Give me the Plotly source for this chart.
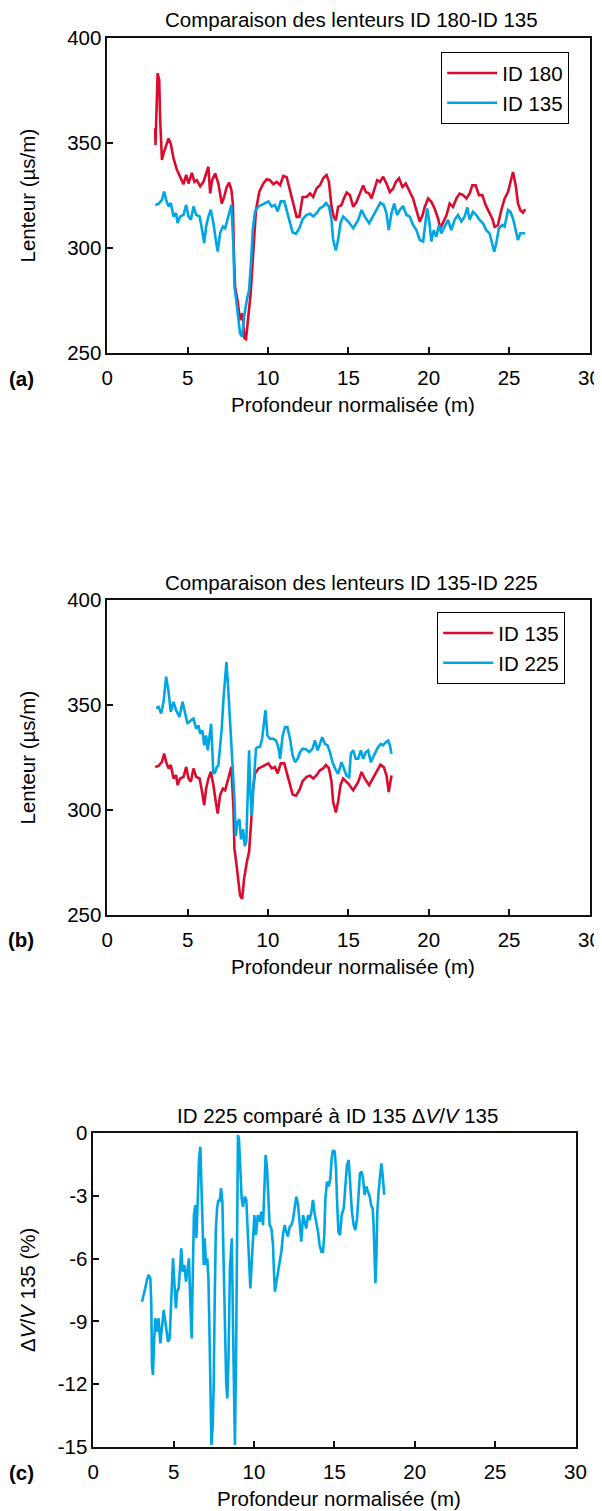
import plotly.graph_objects as go

# ---------------- data ----------------
x_ticks = [0, 5, 10, 15, 20, 25, 30]
lenteur_ticks = [250, 300, 350, 400]
dvv_ticks = [-15, -12, -9, -6, -3, 0]
dvv_ticktext = ["-15", "-12", "-9", "-6", "-3", "0"]

depth_180 = [2.98, 3.0, 3.13, 3.23, 3.29, 3.4, 3.5, 3.6, 3.81, 3.95, 4.12, 4.33, 4.53, 4.74, 4.91,
             5.05, 5.26, 5.42, 5.57, 5.78, 5.98, 6.15, 6.29, 6.4, 6.52, 6.71, 6.91, 7.12, 7.27, 7.43,
             7.58, 7.72, 7.81, 7.89, 7.95, 8.1, 8.26, 8.41, 8.53, 8.63, 8.78, 8.92, 9.09, 9.25, 9.46,
             9.71, 9.92, 10.12, 10.33, 10.54, 10.75, 10.95, 11.16, 11.37, 11.57, 11.78, 11.95, 12.15,
             12.4, 12.61, 12.81, 13.02, 13.23, 13.43, 13.64, 13.79, 13.95, 14.09, 14.22, 14.36, 14.57,
             14.68, 14.89, 15.09, 15.3, 15.51, 15.71, 15.92, 16.09, 16.29, 16.44, 16.65, 16.79, 16.96,
             17.16, 17.37, 17.58, 17.79, 17.95, 18.15, 18.36, 18.57, 18.82, 19.02, 19.23, 19.44, 19.61,
             19.75, 19.96, 20.16, 20.37, 20.58, 20.72, 20.89, 21.1, 21.3, 21.51, 21.72, 21.92, 22.13,
             22.34, 22.54, 22.71, 22.92, 23.12, 23.33, 23.54, 23.74, 23.95, 24.1, 24.3, 24.51, 24.72,
             24.93, 25.07, 25.24, 25.41, 25.55, 25.7, 25.86, 26.0]
lenteur_180 = [357.0, 349.1, 383.2, 380.0, 360.9, 341.9, 345.1, 347.6, 352.2, 349.6, 342.7, 337.2, 334.0,
               330.4, 334.8, 330.7, 335.8, 331.5, 332.3, 329.4, 331.5, 335.5, 338.7, 326.0, 332.3, 335.5,
               330.7, 321.2, 324.3, 329.1, 331.1, 327.6, 321.2, 294.2, 281.6, 275.2, 265.7, 268.9, 257.0,
               256.6, 268.9, 278.4, 299.0, 318.1, 326.8, 330.7, 332.7, 332.3, 330.4, 331.5, 329.9, 334.3,
               333.7, 326.8, 321.2, 314.8, 314.8, 324.3, 324.3, 326.0, 324.3, 328.4, 329.9, 333.2, 334.7,
               331.5, 319.6, 314.8, 313.2, 319.6, 320.4, 322.9, 326.4, 325.2, 319.6, 322.0, 325.9, 329.8,
               326.6, 325.9, 323.6, 329.1, 332.3, 331.5, 333.9, 330.7, 326.6, 328.4, 331.5, 333.2, 329.1,
               330.7, 326.6, 323.6, 318.0, 312.5, 315.6, 319.6, 323.6, 322.0, 318.7, 314.0, 309.3, 312.5,
               315.6, 321.2, 319.6, 323.6, 325.9, 325.2, 323.6, 325.9, 329.8, 329.8, 325.2, 325.2, 320.4,
               317.3, 314.0, 310.1, 310.9, 318.0, 323.6, 326.6, 331.5, 336.2, 329.8, 321.2, 318.0, 316.8,
               318.5]

depth_135 = [2.98, 3.19, 3.4, 3.54, 3.66, 3.81, 3.95, 4.12, 4.28, 4.37, 4.53, 4.74, 4.91, 5.05, 5.2,
             5.36, 5.53, 5.74, 5.88, 6.03, 6.15, 6.29, 6.44, 6.6, 6.75, 6.87, 7.02, 7.19, 7.33, 7.47,
             7.6, 7.72, 7.85, 7.91, 8.02, 8.14, 8.26, 8.39, 8.51, 8.68, 8.82, 8.95, 9.05, 9.19, 9.4,
             9.61, 9.81, 10.02, 10.23, 10.43, 10.6, 10.79, 11.01, 11.2, 11.37, 11.53, 11.74, 11.95,
             12.15, 12.4, 12.61, 12.81, 13.02, 13.23, 13.43, 13.6, 13.79, 13.95, 14.05, 14.22, 14.36,
             14.51, 14.67, 14.88, 14.99, 15.3, 15.61, 15.82, 16.02, 16.29, 16.54, 16.79, 16.99, 17.2,
             17.37, 17.51, 17.68, 17.85, 18.03, 18.2, 18.4, 18.61, 18.82, 19.02, 19.23, 19.44, 19.65,
             19.77, 19.9, 20.02, 20.16, 20.31, 20.47, 20.64, 20.78, 20.99, 21.2, 21.4, 21.61, 21.82,
             22.03, 22.23, 22.4, 22.54, 22.75, 22.96, 23.16, 23.37, 23.58, 23.78, 23.95, 24.07, 24.2,
             24.36, 24.57, 24.72, 24.93, 25.07, 25.24, 25.41, 25.55, 25.7, 25.86, 26.0]
lenteur_135 = [320.5, 321.0, 322.9, 326.9, 322.9, 319.8, 321.4, 315.0, 316.6, 311.9, 315.0, 315.8, 320.5,
               315.0, 313.4, 319.8, 315.8, 315.0, 309.4, 302.3, 310.2, 315.0, 318.2, 311.9, 303.9, 298.3,
               307.1, 310.2, 309.4, 313.4, 317.4, 320.5, 300.6, 281.6, 275.2, 265.7, 259.3, 257.7, 267.2,
               275.2, 280.0, 294.2, 308.6, 317.4, 319.8, 320.5, 321.4, 322.2, 319.8, 320.5, 317.4, 322.2,
               322.2, 316.6, 311.9, 307.4, 306.8, 309.4, 313.7, 315.8, 316.3, 315.0, 316.6, 318.9, 319.8,
               321.4, 319.8, 313.4, 303.9, 298.8, 303.9, 311.9, 315.0, 313.4, 312.6, 309.4, 313.4, 318.1,
               314.9, 311.8, 315.7, 318.8, 321.6, 320.4, 316.5, 308.5, 316.5, 321.2, 315.7, 318.1, 320.0,
               315.7, 314.9, 311.0, 308.5, 303.8, 303.1, 311.8, 318.8, 313.4, 303.1, 308.5, 305.4, 311.0,
               307.0, 310.2, 313.4, 308.5, 313.4, 315.7, 312.6, 314.9, 319.3, 313.4, 317.3, 315.7, 313.4,
               311.8, 308.5, 307.0, 302.3, 298.3, 302.3, 309.4, 311.0, 310.2, 318.1, 317.3, 314.1, 308.5,
               303.8, 307.0, 307.0, 307.0]

depth_225 = [3.04, 3.19, 3.35, 3.5, 3.66, 3.81, 3.95, 4.12, 4.28, 4.49, 4.68, 4.84, 4.99, 5.2, 5.36,
             5.53, 5.67, 5.78, 5.92, 6.03, 6.15, 6.25, 6.36, 6.46, 6.54, 6.6, 6.71, 6.81, 6.91, 7.02,
             7.12, 7.23, 7.33, 7.41, 7.51, 7.6, 7.7, 7.81, 7.91, 7.99, 8.1, 8.22, 8.32, 8.45, 8.55,
             8.65, 8.74, 8.82, 8.9, 8.99, 9.07, 9.15, 9.25, 9.36, 9.5, 9.63, 9.73, 9.84, 9.96, 10.12,
             10.33, 10.5, 10.64, 10.75, 10.91, 11.06, 11.2, 11.37, 11.53, 11.68, 11.84, 11.99, 12.15,
             12.36, 12.57, 12.77, 12.92, 13.08, 13.23, 13.37, 13.54, 13.7, 13.85, 14.01, 14.18, 14.36,
             14.57, 14.74, 14.88, 15.05, 15.15, 15.3, 15.46, 15.61, 15.77, 15.92, 16.09, 16.23, 16.4,
             16.54, 16.71, 16.85, 17.02, 17.16, 17.33, 17.47, 17.58, 17.68]
lenteur_225 = [348.6, 349.1, 345.9, 351.5, 363.5, 356.3, 346.7, 351.5, 347.5, 344.3, 351.5, 345.9, 341.1,
               342.7, 343.5, 338.7, 340.3, 336.3, 337.9, 330.8, 335.5, 328.4, 333.9, 341.1, 327.6, 317.2,
               318.0, 320.4, 321.2, 329.2, 338.7, 353.1, 364.3, 370.4, 359.5, 346.7, 335.5, 321.2, 305.2,
               287.6, 294.0, 295.6, 286.0, 290.8, 282.8, 285.2, 308.4, 328.4, 308.4, 297.2, 308.4, 319.6,
               329.2, 330.0, 330.0, 333.9, 341.9, 347.5, 335.5, 333.9, 333.9, 333.1, 330.0, 324.4, 335.5,
               339.5, 339.5, 333.9, 325.9, 322.8, 324.4, 327.6, 329.2, 328.9, 327.6, 329.2, 333.1, 328.4,
               331.5, 334.7, 331.5, 330.8, 327.6, 322.8, 319.6, 317.2, 322.8, 319.6, 316.4, 315.6, 326.8,
               328.4, 324.4, 324.4, 328.4, 324.4, 327.6, 328.4, 322.8, 325.2, 327.6, 330.0, 331.5, 330.8,
               332.3, 333.1, 330.8, 326.8]

depth_dvv = [3.03, 3.13, 3.23, 3.34, 3.44, 3.55, 3.61, 3.65, 3.71, 3.79, 3.86, 3.96, 4.06, 4.17, 4.27,
             4.38, 4.48, 4.58, 4.65, 4.75, 4.84, 4.92, 4.96, 5.04, 5.14, 5.21, 5.31, 5.41, 5.47, 5.56,
             5.66, 5.77, 5.87, 5.95, 6.04, 6.12, 6.2, 6.26, 6.35, 6.41, 6.49, 6.58, 6.66, 6.72, 6.78,
             6.87, 6.93, 7.01, 7.09, 7.16, 7.22, 7.28, 7.35, 7.43, 7.49, 7.55, 7.62, 7.7, 7.78, 7.86,
             7.95, 8.03, 8.11, 8.19, 8.27, 8.34, 8.41, 8.5, 8.56, 8.62, 8.69, 8.75, 8.81, 8.88, 8.94,
             9.0, 9.06, 9.15, 9.23, 9.31, 9.42, 9.52, 9.6, 9.69, 9.77, 9.87, 9.93, 10.02, 10.12, 10.23,
             10.35, 10.45, 10.56, 10.64, 10.72, 10.81, 10.89, 10.97, 11.08, 11.18, 11.24, 11.3, 11.43,
             11.57, 11.7, 11.8, 11.9, 12.01, 12.11, 12.22, 12.32, 12.42, 12.53, 12.63, 12.74, 12.84,
             12.94, 13.05, 13.15, 13.25, 13.36, 13.46, 13.57, 13.67, 13.77, 13.88, 13.98, 14.08, 14.19,
             14.29, 14.37, 14.44, 14.54, 14.65, 14.75, 14.83, 14.91, 15.02, 15.1, 15.16, 15.25, 15.35,
             15.45, 15.58, 15.68, 15.78, 15.89, 15.99, 16.09, 16.2, 16.3, 16.41, 16.51, 16.59, 16.7,
             16.78, 16.88, 16.99, 17.09, 17.2, 17.28, 17.38, 17.44, 17.5, 17.55, 17.61, 17.67, 17.75,
             17.86, 17.92, 18.0, 18.1]
dvv = [-8.06, -7.66, -7.42, -7.02, -6.78, -6.94, -8.22, -11.08, -11.56, -9.81, -8.85, -9.49, -8.85,
       -10.05, -9.17, -8.46, -9.01, -9.49, -9.97, -9.81, -8.38, -6.94, -5.99, -7.1, -8.38, -7.58, -7.42,
       -6.3, -5.51, -6.62, -6.3, -7.1, -6.46, -5.99, -8.22, -9.81, -6.3, -3.92, -3.44, -5.03, -3.44,
       -1.21, -0.66, -2.01, -4.4, -6.3, -5.03, -6.3, -5.99, -6.94, -9.17, -12.04, -14.9, -13.95, -12.04,
       -8.22, -4.71, -3.6, -3.2, -3.28, -2.64, -3.28, -6.3, -9.81, -12.04, -12.68, -10.77, -6.46, -5.35,
       -5.03, -9.17, -13.47, -14.9, -10.77, -4.4, -0.1, -0.26, -1.53, -3.12, -3.52, -3.04, -3.2, -4.4,
       -5.99, -7.42, -5.99, -4.88, -3.92, -4.88, -3.92, -4.24, -3.76, -4.4, -2.8, -1.05, -1.69, -3.28,
       -4.4, -4.56, -5.35, -6.62, -7.58, -6.94, -6.3, -5.67, -4.88, -4.4, -4.72, -4.95, -4.48, -4.4,
       -4.16, -3.44, -3.04, -3.44, -4.24, -5.19, -3.92, -4.24, -4.56, -3.92, -4.16, -3.76, -3.2, -3.84,
       -4.24, -4.72, -5.35, -5.67, -5.67, -4.88, -3.12, -2.32, -2.56, -2.16, -1.21, -0.82, -0.89, -1.69,
       -3.12, -4.72, -4.88, -3.92, -3.6, -2.48, -1.53, -1.29, -2.8, -3.76, -4.4, -4.64, -4.08, -3.12,
       -1.93, -1.85, -2.16, -2.96, -2.56, -2.8, -3.04, -3.44, -3.6, -4.4, -6.46, -7.18, -5.99, -3.76,
       -2.8, -2.0, -1.45, -2.0, -2.96]

# panel (b) shows ID 135 over the ID 225 depth span only
b_limit = 17.7
depth_135b = [d for d in depth_135 if d <= b_limit]
lenteur_135b = [v for d, v in zip(depth_135, lenteur_135) if d <= b_limit]

# ---------------- styling ----------------
RED = "#dc0a2d"
BLUE = "#00a6e4"
FONT = "Liberation Sans, Arial, Helvetica, sans-serif"
FS = 20.5
OFF = 8  # page body margin of the html page
W, H = 602 - OFF, 1511 - OFF  # figure fits the window exactly, no scrollbars


def py(p):
    return 1 - (p - OFF) / H


def px(p):
    return (p - OFF) / W


fig = go.Figure()
fig.add_trace(go.Scatter(x=depth_180, y=lenteur_180, mode="lines", name="ID 180",
                         line=dict(color=RED, width=2.6), xaxis="x", yaxis="y",
                         legend="legend"))
fig.add_trace(go.Scatter(x=depth_135, y=lenteur_135, mode="lines", name="ID 135",
                         line=dict(color=BLUE, width=2.6), xaxis="x", yaxis="y",
                         legend="legend"))
fig.add_trace(go.Scatter(x=depth_135b, y=lenteur_135b, mode="lines", name="ID 135",
                         line=dict(color=RED, width=2.6), xaxis="x2", yaxis="y2",
                         legend="legend2"))
fig.add_trace(go.Scatter(x=depth_225, y=lenteur_225, mode="lines", name="ID 225",
                         line=dict(color=BLUE, width=2.6), xaxis="x2", yaxis="y2",
                         legend="legend2"))
fig.add_trace(go.Scatter(x=depth_dvv, y=dvv, mode="lines", name="dV/V",
                         line=dict(color=BLUE, width=2.6), xaxis="x3", yaxis="y3",
                         showlegend=False))

# panel geometry in page pixels: (left, right, top, bottom)
panels = {
    "a": (107.3, 589.5, 38.0, 353.0),
    "b": (107.3, 589.5, 600.0, 915.0),
    "c": (93.3, 575.5, 1133.0, 1447.0),
}

axis_common = dict(showline=True, linecolor="#111111", linewidth=1.5, mirror=True,
                   ticks="inside", ticklen=6, tickwidth=1.5, tickcolor="#111111",
                   showgrid=False, zeroline=False, automargin=False,
                   tickfont=dict(family=FONT, size=FS, color="black"))

layout = dict(width=W, height=H, autosize=False,
              margin=dict(l=0, r=0, t=0, b=0, pad=0, autoexpand=False),
              plot_bgcolor="white", paper_bgcolor="white",
              font=dict(family=FONT, size=FS, color="black"))

for i, key in enumerate(["a", "b", "c"]):
    l, r, t, b = panels[key]
    sx = "" if i == 0 else str(i + 1)
    xa = dict(axis_common, domain=[px(l), px(r)], range=[0, 30], tickvals=x_ticks,
              anchor="y" + sx, ticklabelstandoff=6)
    if key == "c":
        ya = dict(axis_common, domain=[py(b), py(t)], range=[-15, 0], tickvals=dvv_ticks,
                  ticktext=dvv_ticktext, anchor="x" + sx)
    else:
        ya = dict(axis_common, domain=[py(b), py(t)], range=[250, 400],
                  tickvals=lenteur_ticks, anchor="x" + sx)
    layout["xaxis" + sx] = xa
    layout["yaxis" + sx] = ya

legend_common = dict(xanchor="left", yanchor="top", bordercolor="black", borderwidth=1.2,
                     bgcolor="white", itemwidth=50,
                     font=dict(family=FONT, size=FS, color="black"))
layout["legend"] = dict(legend_common, x=px(441), y=py(52))
layout["legend2"] = dict(legend_common, x=px(437), y=py(612))

titles = {
    "a": "Comparaison des lenteurs ID 180-ID 135",
    "b": "Comparaison des lenteurs ID 135-ID 225",
    "c": "ID 225 comparé à ID 135 Δ<i>V</i>/<i>V</i> 135",
}
ytitles = {
    "a": "Lenteur (µs/m)",
    "b": "Lenteur (µs/m)",
    "c": "Δ<i>V</i>/<i>V</i> 135 (%)",
}
annotations = []
for key in ["a", "b", "c"]:
    l, r, t, b = panels[key]
    cx = (l + r) / 2
    annotations.append(dict(text=titles[key], x=px(cx + 3), y=py(t - 18), xref="paper",
                            yref="paper", xanchor="center", yanchor="middle",
                            showarrow=False, font=dict(family=FONT, size=FS)))
    annotations.append(dict(text="Profondeur normalisée (m)", x=px(cx + 5), y=py(b + 51),
                            xref="paper", yref="paper", xanchor="center", yanchor="middle",
                            showarrow=False, font=dict(family=FONT, size=FS)))
    annotations.append(dict(text=ytitles[key], x=px(27), y=py((t + b) / 2), xref="paper",
                            yref="paper", xanchor="center", yanchor="middle", textangle=-90,
                            showarrow=False, font=dict(family=FONT, size=FS)))
    annotations.append(dict(text="<b>(" + key + ")</b>", x=px(21), y=py(b + 25), xref="paper",
                            yref="paper", xanchor="center", yanchor="middle",
                            showarrow=False, font=dict(family=FONT, size=FS)))
layout["annotations"] = annotations

fig.update_layout(**layout)
fig.write_html("out.html")
